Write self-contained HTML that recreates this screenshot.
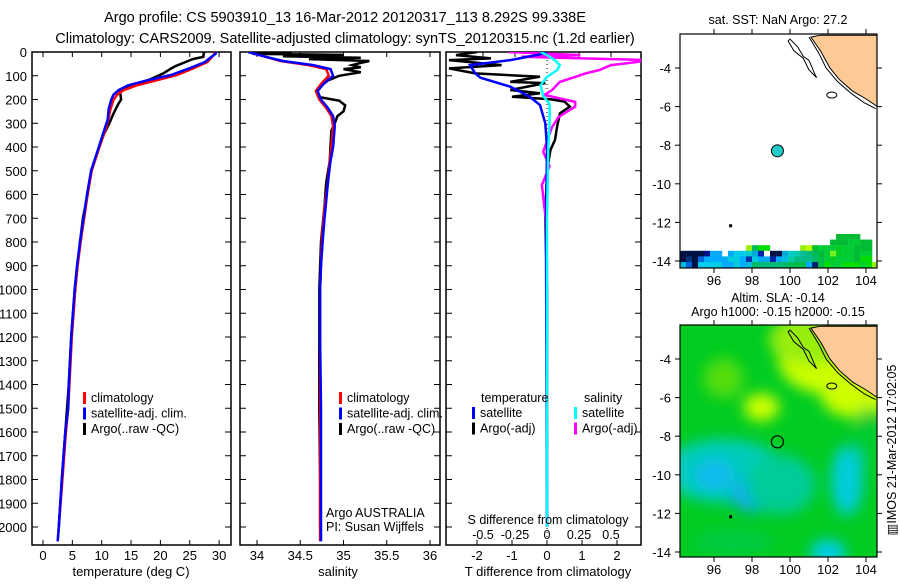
<!DOCTYPE html>
<html><head><meta charset="utf-8"><style>
body{margin:0;background:#fff;width:900px;height:580px;overflow:hidden}
svg{font-family:"Liberation Sans",Arial,sans-serif}
</style></head><body>
<svg id="fig" width="900" height="580" viewBox="0 0 900 580">
<defs>
<filter id="blur" x="-20%" y="-20%" width="140%" height="140%"><feGaussianBlur stdDeviation="7"/></filter>
<clipPath id="c1"><rect x="32" y="52" width="199" height="493"/></clipPath>
<clipPath id="c2"><rect x="240" y="52" width="200" height="493"/></clipPath>
<clipPath id="c3"><rect x="446" y="52" width="195" height="493"/></clipPath>
<clipPath id="m1"><rect x="680" y="34" width="197" height="234"/></clipPath>
<clipPath id="m2"><rect x="680" y="325" width="197" height="232"/></clipPath>
</defs>
<text x="345" y="22" font-size="14.5" text-anchor="middle">Argo profile: CS 5903910_13 16-Mar-2012 20120317_113 8.292S 99.338E</text>
<text x="345" y="43" font-size="14.5" text-anchor="middle">Climatology: CARS2009. Satellite-adjusted climatology: synTS_20120315.nc (1.2d earlier)</text>
<g id="g"></g>
</svg>
<script>
// ---- data ----
const depthT = [0,8,20,42,70,97,118,140,160,180,202,240,286,316,400,500,600,700,800,900,1000,1200,1400,1500,1600,1800,2000,2060];
const tempClim = [29.3,29.2,28.8,28.0,25.5,22.8,19.5,16,13.8,12.6,12.0,11.5,11.1,10.8,9.6,8.3,7.6,7.0,6.4,5.9,5.5,4.9,4.5,4.3,3.9,3.3,2.7,2.5];
const tempSat  = [29.5,29.4,28.7,27.6,24.8,21.8,18.0,14.5,12.9,12.0,11.6,11.2,11.0,10.6,9.5,8.2,7.5,6.9,6.3,5.8,5.4,4.8,4.4,4.3,3.8,3.2,2.7,2.5];
const depthA = [0,5,20,30,42,60,70,90,118,140,160,180,200,220,260,300,350,400,500,600,700,800,1000,1200,1400,1600,1800,2000];
const tempArgo = [27.5,27.4,27.3,25.5,24.3,22.5,21.8,20.5,18.0,15.0,13.0,13.2,13.3,12.8,12.0,11.3,10.3,9.6,8.2,7.6,6.8,6.3,5.4,4.8,4.4,3.8,3.2,2.7];
const depthS = [0,10,20,38,55,72,100,130,164,200,236,270,312,400,459,550,627,700,796,900,1000,1200,1500,1800,2000,2060];
const salClim = [33.9,34.0,34.1,34.27,34.6,34.8,34.83,34.75,34.68,34.72,34.8,34.86,34.88,34.86,34.84,34.82,34.79,34.77,34.75,34.74,34.73,34.73,34.73,34.73,34.73,34.73];
const salSat  = [33.9,34.0,34.1,34.3,34.65,34.85,34.88,34.78,34.7,34.74,34.82,34.88,34.9,34.88,34.85,34.82,34.8,34.78,34.76,34.74,34.73,34.73,34.74,34.74,34.74,34.74];
const depthSA = [0,4,8,12,18,24,30,38,46,55,65,72,85,100,120,140,164,190,205,225,250,270,300,330,400,460,550,650,800,1000,1200,1500,1800,2000];
const salArgo = [33.9,34.4,33.95,35.0,34.3,35.2,34.6,35.3,35.2,35.1,35.2,35.0,35.2,34.95,34.82,34.75,34.7,34.72,34.95,35.02,35.0,34.93,34.9,34.86,34.85,34.84,34.8,34.78,34.74,34.72,34.72,34.72,34.73,34.73];
const depthTsat = [0,10,34,55,90,108,146,188,223,300,400,800,1500,2000];
const dTsat  = [0,-0.2,-1.05,-2.2,-2.05,-1.9,-1.05,-0.5,-0.2,-0.05,0,-0.03,-0.01,0];
const depthTargo = [0,13,27,34,55,69,90,104,126,131,160,174,188,199,209,230,258,314,370,412,500,700,1000,1500,2000];
const dTargo = [-2.0,-2.6,-1.6,-2.8,-1.3,-2.8,-2.05,-0.2,-1.05,-0.05,-1.05,-0.2,-1.0,0.1,0.5,0.65,0.37,0.29,0.23,0.1,0.0,-0.05,0.0,0.0,0.0];
const depthSsat = [0,13,34,55,76,105,140,185,220,300,400,700,1000,2000];
const dSsat  = [-0.05,0.0,0.06,0.1,0.08,0.0,-0.05,-0.03,0.02,0.02,0.01,0.0,0.0,0.0];
const depthSargo = [0,13,20,34,42,55,76,90,105,126,160,180,210,230,274,316,360,420,480,560,700,900,1200,1600,2000];
const dSargo = [-0.3,0.26,-0.2,0.8,0.7,0.5,0.41,0.3,0.22,0.1,0.04,-0.02,0.22,0.22,0.09,0.04,0.01,-0.03,0.02,-0.04,-0.01,0.0,0.0,0.0,0.0];
const depthTicks = [0,100,200,300,400,500,600,700,800,900,1000,1100,1200,1300,1400,1500,1600,1700,1800,1900,2000];
const tempTicks = [0,5,10,15,20,25,30];
const salTicks = [34,34.5,35,35.5,36];
const dTTicks = [-2,-1,0,1,2];
const dTLabels = ["-2","-1","0","1","2"];
const dSTicks = [-0.5,-0.25,0,0.25,0.5];
const latTicks = [-4,-6,-8,-10,-12,-14];
const lonTicks = [96,98,100,102,104];
const argoLon = 99.338, argoLat = -8.292;

// ---- axes ----
const yD = d => 52 + d*0.2375;
const xT = t => 43 + t*5.87;
const xS = s => 257 + (s-34)*86.5;
const xDT = v => 547 + v*35;
const xDS = v => 547 + v*128;
const mX = lon => 714 + (lon-96)*19;
const m1Y = lat => 68 + (-4-lat)*19.3;
const m2Y = lat => 359 + (-4-lat)*19.3;

const NS='http://www.w3.org/2000/svg';
const G=document.getElementById('g');
function mk(tag,attrs,parent){const e=document.createElementNS(NS,tag);for(const k in attrs)e.setAttribute(k,attrs[k]);(parent||G).appendChild(e);return e;}
function txt(x,y,s,size,anchor,parent){const e=mk('text',{x:x,y:y,'font-size':size||13,'text-anchor':anchor||'middle'},parent);e.textContent=s;return e;}
function series(xs,ds,fx,color,w,clip){let p='';for(let i=0;i<xs.length;i++)p+=(i?'L':'M')+fx(xs[i]).toFixed(1)+','+yD(ds[i]).toFixed(1);return mk('path',{d:p,fill:'none',stroke:color,'stroke-width':w,'clip-path':'url(#'+clip+')'});}

function panel(x0,x1,name){
  const r=mk('rect',{x:x0,y:52,width:x1-x0,height:493,fill:'#fff',stroke:'#000','stroke-width':1.5});
  
  
  depthTicks.forEach(d=>{mk('line',{x1:x0,x2:x0+6,y1:yD(d),y2:yD(d),stroke:'#000'});mk('line',{x1:x1-6,x2:x1,y1:yD(d),y2:yD(d),stroke:'#000'});});
}
// Panel 1
panel(32,231,'temperature-panel');
depthTicks.forEach(d=>{const t=txt(27,yD(d)+5,String(d),13,'end');});
tempTicks.forEach(v=>{mk('line',{x1:xT(v),x2:xT(v),y1:545,y2:540,stroke:'#000'});mk('line',{x1:xT(v),x2:xT(v),y1:52,y2:57,stroke:'#000'});const t=txt(xT(v),560,String(v),13);});
let s;
s=series(tempArgo,depthA,xT,'#000',2.5,'c1');
s=series(tempClim,depthT,xT,'#f00',2.5,'c1');
s=series(tempSat,depthT,xT,'#00f',2.5,'c1');
let t=txt(131,576,'temperature (deg C)',13);

function legend(x,y,items,parent){items.forEach((it,i)=>{mk('rect',{x:x,y:y+i*15.5-10,width:3,height:12,fill:it[0]});const e=txt(x+8,y+i*15.5,it[1],12.5,'start');});}
legend(83,402,[['#f00','climatology'],['#00f','satellite-adj. clim.'],['#000','Argo(..raw -QC)']]);

// Panel 2
panel(240,440,'salinity-panel');
salTicks.forEach(v=>{mk('line',{x1:xS(v),x2:xS(v),y1:545,y2:540,stroke:'#000'});mk('line',{x1:xS(v),x2:xS(v),y1:52,y2:57,stroke:'#000'});const t=txt(xS(v),560,String(v),13);});
s=series(salArgo,depthSA,xS,'#000',2.5,'c2');
s=series(salClim,depthS,xS,'#f00',2.5,'c2');
s=series(salSat,depthS,xS,'#00f',2.5,'c2');
t=txt(338,576,'salinity',13);
legend(339,402,[['#f00','climatology'],['#00f','satellite-adj. clim.'],['#000','Argo(..raw -QC)']]);
t=txt(326,517,'Argo AUSTRALIA',12.5,'start');
t=txt(326,531,'PI: Susan Wijffels',12.5,'start');

// Panel 3
panel(446,641,'difference-panel');
dTTicks.forEach((v,i)=>{mk('line',{x1:xDT(v),x2:xDT(v),y1:545,y2:540,stroke:'#000'});const t=txt(xDT(v),560,dTLabels[i],13);});
dSTicks.forEach(v=>{mk('line',{x1:xDS(v),x2:xDS(v),y1:52,y2:57,stroke:'#000'});const t=txt(xDS(v),539,String(v),12.5);});
mk('line',{x1:xDT(0),x2:xDT(0),y1:52,y2:545,stroke:'#000','stroke-dasharray':'1,3'});
s=series(dTargo,depthTargo,xDT,'#000',2.5,'c3');
s=series(dSargo,depthSargo,xDS,'#f0f',2.5,'c3');
s=series(dTsat,depthTsat,xDT,'#00f',2.5,'c3');
s=series(dSsat,depthSsat,xDS,'#0ff',2.5,'c3');
t=txt(548,524,'S difference from climatology',12.5);
t=txt(548,576,'T difference from climatology',13);
t=txt(481,402,'temperature',12.5,'start');
t=txt(584,402,'salinity',12.5,'start');
legend(472,417,[['#00f','satellite'],['#000','Argo(-adj)']]);
legend(574,417,[['#0ff','satellite'],['#f0f','Argo(-adj)']]);

// Maps
function land(fy,clip){
  const pts=[[101.6,-2.3],[104.6,-2.3],[104.6,-6.0],[104.0,-5.6],[103.3,-5.2],[102.6,-4.6],[102.1,-4.0],[101.6,-3.1],[101.1,-2.4]];
  mk('polygon',{points:pts.map(p=>mX(p[0])+','+fy(p[1])).join(' '),fill:'#fdc994',stroke:'#000','stroke-width':1,'clip-path':'url(#'+clip+')'});
  const c=[[101.0,-2.4],[101.5,-3.2],[101.9,-4.0],[102.5,-4.7],[103.2,-5.3],[103.9,-5.8],[104.5,-6.1]];
  mk('polyline',{points:c.map(p=>mX(p[0])+','+fy(p[1])).join(' '),fill:'none',stroke:'#000','stroke-width':1,'clip-path':'url(#'+clip+')'});
  mk('polygon',{points:[[100.0,-2.5],[100.4,-2.9],[100.7,-3.4],[101.0,-3.6],[101.3,-4.3],[101.4,-4.5],[101.0,-4.1],[100.7,-3.5],[100.2,-3.1],[99.9,-2.6]].map(p=>mX(p[0])+','+fy(p[1])).join(' '),fill:'none',stroke:'#000','clip-path':'url(#'+clip+')'});
  mk('ellipse',{cx:mX(102.2),cy:fy(-5.4),rx:5,ry:3,fill:'none',stroke:'#000'});
  mk('rect',{x:mX(96.9)-2,y:fy(-12.2)-2,width:3,height:3,fill:'#000'});
}
function mapAxes(fy,y0,y1,name){
  const r=mk('rect',{x:680,y:y0,width:197,height:y1-y0,fill:'none',stroke:'#000','stroke-width':1.2});
  
  
  latTicks.forEach(v=>{mk('line',{x1:680,x2:675,y1:fy(v),y2:fy(v),stroke:'#000'});mk('line',{x1:877,x2:882,y1:fy(v),y2:fy(v),stroke:'#000'});const t=txt(671,fy(v)+5,String(v),13,'end');});
  lonTicks.forEach(v=>{mk('line',{x1:mX(v),x2:mX(v),y1:y0,y2:y0-5,stroke:'#000'});mk('line',{x1:mX(v),x2:mX(v),y1:y1,y2:y1+5,stroke:'#000'});const t=txt(mX(v),y1+17,String(v),13);});
}
// Map 1 (SST)
mk('rect',{x:680,y:34,width:197,height:234,fill:'#fff'});
const sstRows=[
 ['','','','','','','','','','','','','','','','','','','','','','','','','','','#0b3','#0b3','#0b3','#0b3','','',''],
 ['','','','','','','','','','','','','','','','','','','','','','','','','','#0b3','#0b3','#0b3','#0c3','#0c3','#0b3','#0b3',''],
 ['','','','','','','','','','','','#9e1','#0b5','#0d0','#0d0','','','','','','#9e1','#bf0','#0b3','#0c3','#0c3','#0c3','#0c2','#0c3','#0c3','#0b3','#0b3','#0b3',''],
 ['#014','#014','#014','#014','#018','#0af','#0af','','#0af','#0ce','#0ce','#0cc','#0ad','#02a','#fff','#014','#014','#0ad','#0cc','#0ca','#0b9','#0b7','#0b5','#0b3','#0c3','#7e2','#0c2','#0c3','#0c3','#0b3','#0c3','#0c3',''],
 ['#014','#037','#014','#06d','#0af','#0af','#0af','#0af','#0cd','#0cd','#0af','#03a','#0cd','#0af','#0af','#02a','#0af','#0bd','#0ca','#0b8','#0b8','#0b8','#0b6','#0b4','#0c3','#0c2','#0c3','#0c3','#0c3','#0b3','#0d0','#0d0',''],
 ['#0bd','#06d','#014','#0ce','#0ce','#0ce','#0cd','#0af','#0af','#0cd','#0af','#0bd','#0b6','#0b7','#0b7','#0b7','#0b7','#0b6','#0b5','#0b4','#0b5','#0af','#026','#0b4','#0d0','#0c3','#0c3','#0d0','#0d0','#0d0','#0c3','#0d0','#9e1']
];
const sstLon0=94.21, sstLat0=-12.6, sstLonStep=0.316, sstLatStep=0.29;
sstRows.forEach((row,r)=>row.forEach((c,i)=>{if(!c)return;mk('rect',{x:mX(sstLon0+i*sstLonStep).toFixed(1),y:m1Y(sstLat0-r*sstLatStep).toFixed(1),width:6.2,height:5.8,fill:c,'clip-path':'url(#m1)'});}));
land(m1Y,'m1');
let d1=mk('circle',{cx:mX(argoLon),cy:m1Y(argoLat),r:6,fill:'#2cc',stroke:'#000'});


mapAxes(m1Y,34,268,'sst-map');
t=txt(778,24,'sat. SST: NaN Argo: 27.2',12.5);

// Map 2 (SLA)
const gm=mk('g',{'clip-path':'url(#m2)'});
mk('rect',{x:680,y:325,width:197,height:232,fill:'#0c2'},gm);
const fg=mk('g',{filter:'url(#blur)'},gm);
const blobs=[[102,-4,50,35,'#cf0'],[103.5,-6,35,20,'#cf0'],[101,-3,40,25,'#9e1'],[98.5,-6.5,18,14,'#cf0'],[96.5,-5,20,20,'#5d1'],[96.5,-9.8,60,32,'#0cb'],[96,-10,20,16,'#1be'],[98,-11,20,18,'#1ae'],[99.5,-10.5,35,30,'#0c9'],[103,-10.3,16,35,'#0cd'],[102,-14,18,12,'#0ce'],[97,-13.5,40,12,'#0c4'],[104,-8,10,30,'#0c3']];
blobs.forEach(b=>mk('ellipse',{cx:mX(b[0]),cy:m2Y(b[1]),rx:b[2],ry:b[3],fill:b[4]},fg));
land(m2Y,'m2');
let d2=mk('circle',{cx:mX(argoLon),cy:m2Y(argoLat),r:6,fill:'none',stroke:'#000','stroke-width':1.2});


mapAxes(m2Y,325,557,'sla-map');
t=txt(778,302,'Altim. SLA: -0.14',12.5);
t=txt(778,316,'Argo h1000: -0.15 h2000: -0.15',12.5);
t=txt(0,0,'\u25A5IMOS 21-Mar-2012 17:02:05',12.5);t.setAttribute('transform','translate(896,450) rotate(-90)');
</script>
</body></html>
